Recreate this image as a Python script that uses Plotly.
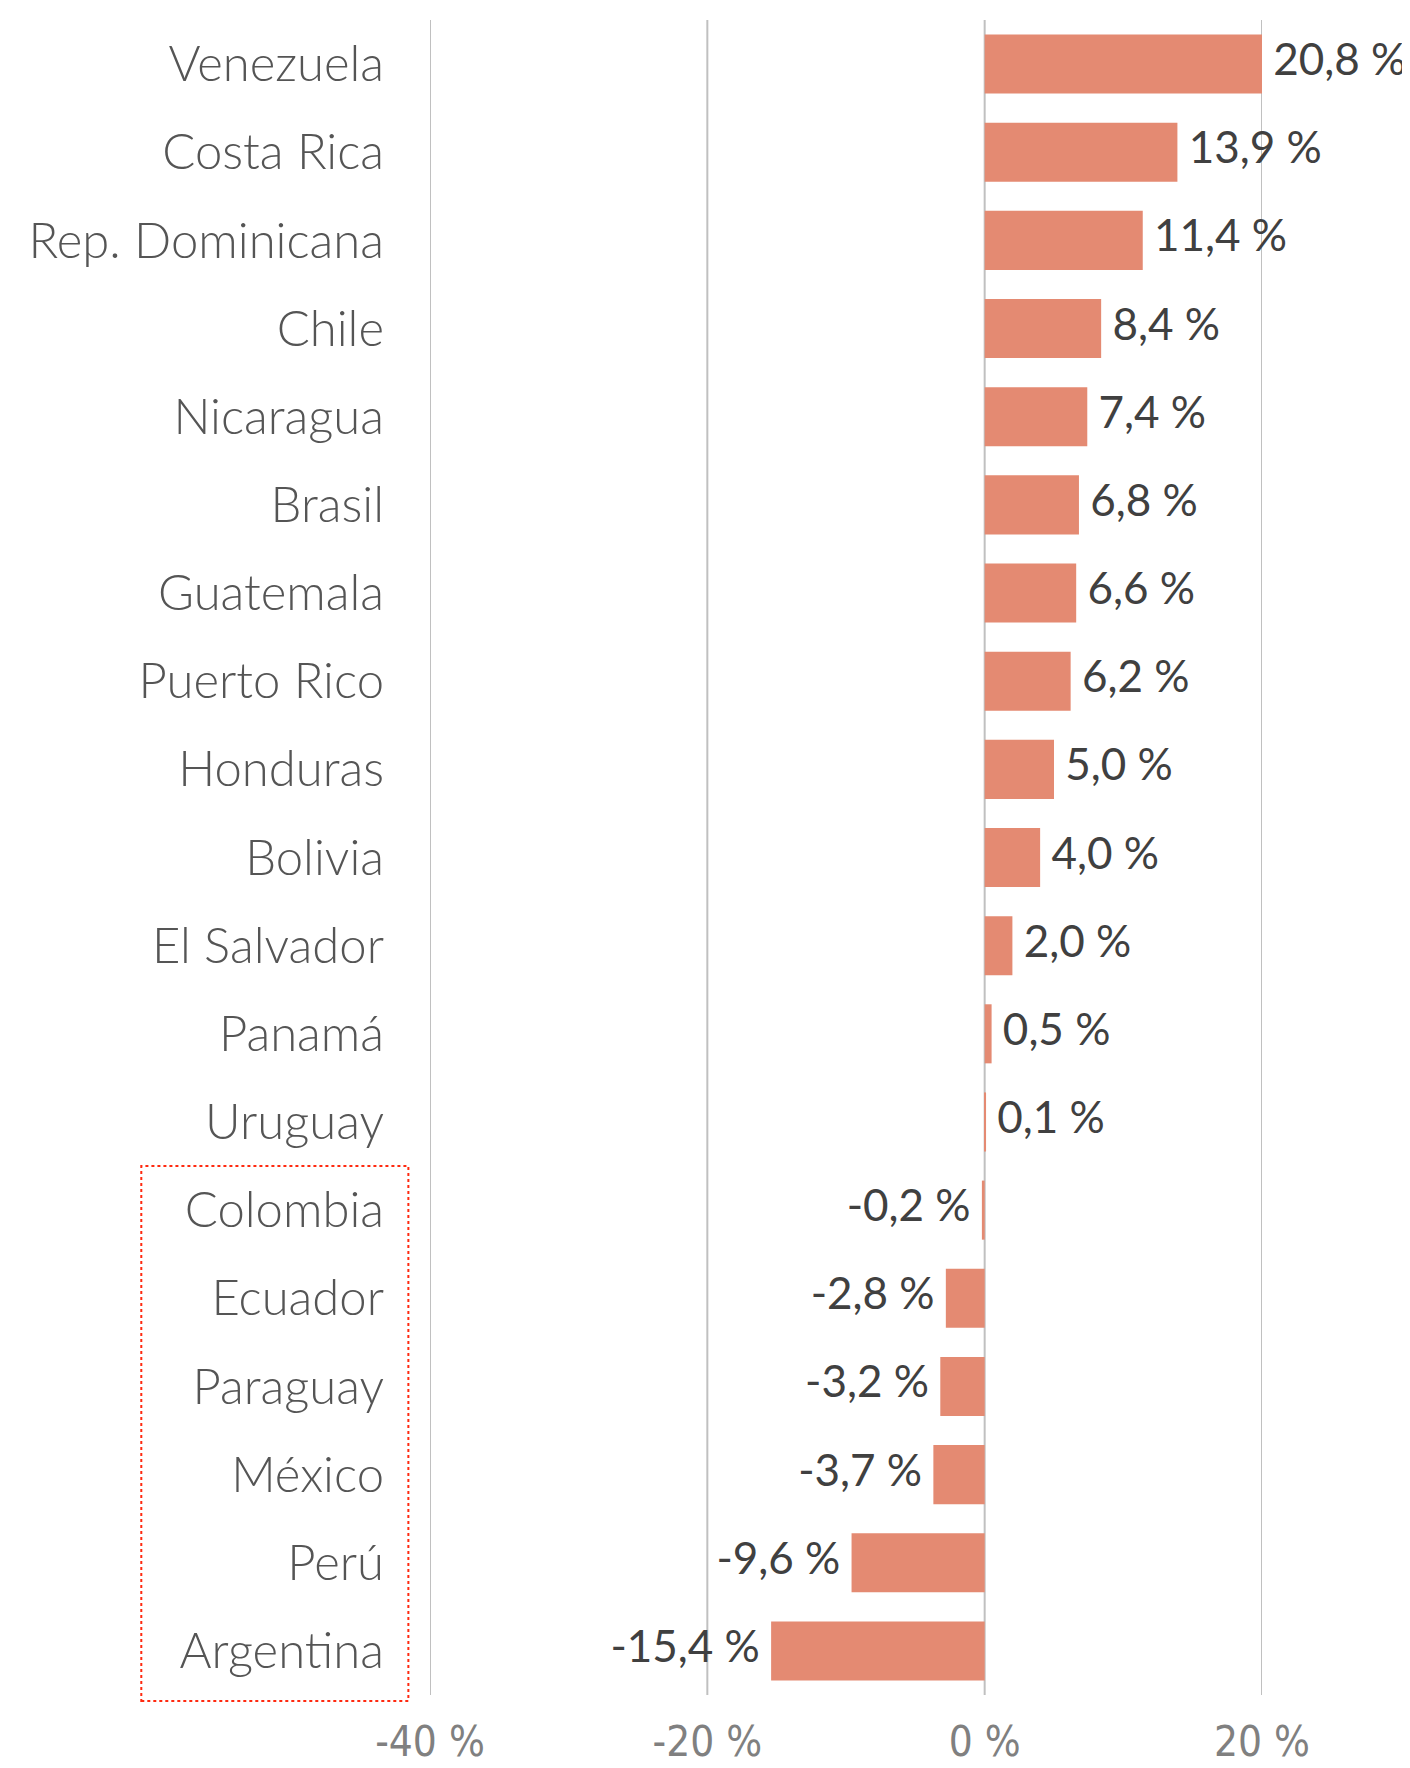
import plotly.graph_objects as go

countries = ["Venezuela", "Costa Rica", "Rep. Dominicana", "Chile", "Nicaragua", "Brasil",
             "Guatemala", "Puerto Rico", "Honduras", "Bolivia", "El Salvador", "Panamá",
             "Uruguay", "Colombia", "Ecuador", "Paraguay", "México", "Perú", "Argentina"]
values = [20.8, 13.9, 11.4, 8.4, 7.4, 6.8, 6.6, 6.2, 5.0, 4.0, 2.0, 0.5, 0.1,
          -0.2, -2.8, -3.2, -3.7, -9.6, -15.4]
tick_vals = [-40, -20, 0, 20]
tick_text = ["-40 %", "-20 %", "0 %", "20 %"]
highlight_first = "Colombia"   # first country inside the red dotted box

X_MIN, X_MAX = -40, 20
NB = "\u00a0"

labels = []
label_x = []
label_pos = []
for v in values:
    s = f"{v:.1f}".replace(".", ",") + NB + "%"
    if v >= 0:
        labels.append(NB + s)
        label_x.append(min(v, X_MAX))
        label_pos.append("middle right")
    else:
        labels.append(s + NB)
        label_x.append(v)
        label_pos.append("middle left")

fig = go.Figure()
fig.add_trace(go.Bar(
    x=values, y=countries, orientation="h",
    marker=dict(color="#E48A72", line=dict(width=0)),
    hoverinfo="skip",
))
fig.add_trace(go.Scatter(
    x=label_x, y=countries, mode="text", text=labels, textposition=label_pos,
    textfont=dict(family="Lato", size=44, color="#404040"),
    cliponaxis=False, hoverinfo="skip",
))

# vertical gridlines (drawn as shapes so the edge lines at -40 % and 20 % show)
for tv in tick_vals:
    fig.add_shape(type="line", xref="x", yref="paper", x0=tv, x1=tv, y0=0, y1=1,
                  line=dict(color="#C0C0C0", width=2), layer="below")

n = len(countries)
box_top = (n - countries.index(highlight_first)) / n
fig.add_shape(type="rect", xref="paper", yref="paper",
              x0=-0.347, x1=-0.026, y0=-0.0036, y1=box_top,
              line=dict(color="#FF2A10", width=2, dash="dot"),
              fillcolor="rgba(0,0,0,0)", layer="above")

fig.update_layout(
    width=1402, height=1760,
    margin=dict(l=422, r=148, t=12, b=73, autoexpand=False),
    paper_bgcolor="white", plot_bgcolor="rgba(0,0,0,0)",
    bargap=0.33, showlegend=False,
    font=dict(family="Lato", color="#595959"),
)
fig.update_xaxes(
    range=[X_MIN, X_MAX], tickvals=tick_vals, ticktext=tick_text,
    showgrid=False, zeroline=False, showline=False, ticks="", automargin=False,
    tickfont=dict(family="DejaVu Sans Condensed", size=42, color="#808080"),
    ticklabelstandoff=18,
)
fig.update_yaxes(
    range=[n - 0.5, -0.5], showgrid=False, zeroline=False, showline=False, ticks="",
    automargin=False,
    tickfont=dict(family="Lato", size=49, color="#555555", weight=300),
    ticklabelstandoff=45,
)

fig.write_html("out.html")
